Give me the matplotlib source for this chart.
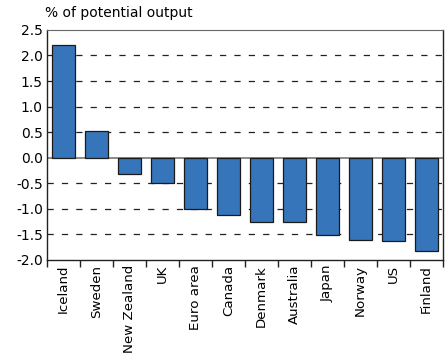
import numpy as np
import matplotlib
matplotlib.use("Agg")
import matplotlib.pyplot as plt

countries = ["Iceland", "Sweden", "New Zealand", "UK", "Euro area", "Canada",
             "Denmark", "Australia", "Japan", "Norway", "US", "Finland"]
values = [2.2, 0.52, -0.32, -0.5, -1.0, -1.12, -1.25, -1.26, -1.52, -1.62, -1.64, -1.83]

plt.rcParams["font.family"] = ["DejaVu Sans"]

fig = plt.figure(figsize=(4.48, 3.56), dpi=100)
ax = fig.add_axes([0.105, 0.270, 0.884, 0.646])

x = np.arange(len(countries))
ax.bar(x, values, width=0.72, color="#3775ba", edgecolor="#1a1a1a", linewidth=0.9, zorder=3)

# dashed grid
for y in [-1.5, -1.0, -0.5, 0.5, 1.0, 1.5, 2.0]:
    ax.axhline(y, color="#222222", linestyle=(0, (5, 6.5)), linewidth=0.9, zorder=1)
ax.axhline(0, color="#777777", linewidth=1.2, zorder=2)

ax.set_xlim(-0.5, len(countries) - 0.5)
ax.set_ylim(-2.0, 2.5)
ax.set_yticks(np.arange(-2.0, 2.51, 0.5))
ax.set_yticklabels([f"{v:.1f}" for v in np.arange(-2.0, 2.51, 0.5)], fontsize=10)
ax.tick_params(axis="y", length=0, pad=3)

ax.set_xticks(x)
ax.set_xticklabels(countries, rotation=90, fontsize=9.6)
ax.tick_params(axis="x", which="major", length=0, pad=3.5)
ax.set_xticks(np.arange(-0.5, len(countries)), minor=True)
ax.tick_params(axis="x", which="minor", length=5, direction="out", width=1, color="#222222")

for side in ["left", "bottom", "right"]:
    ax.spines[side].set_color("#222222")
    ax.spines[side].set_linewidth(1.0)
ax.spines["top"].set_color("#666666")

fig.text(0.1, 0.945, "% of potential output", fontsize=10, ha="left", va="bottom")

fig.savefig("out.png", dpi=100)
